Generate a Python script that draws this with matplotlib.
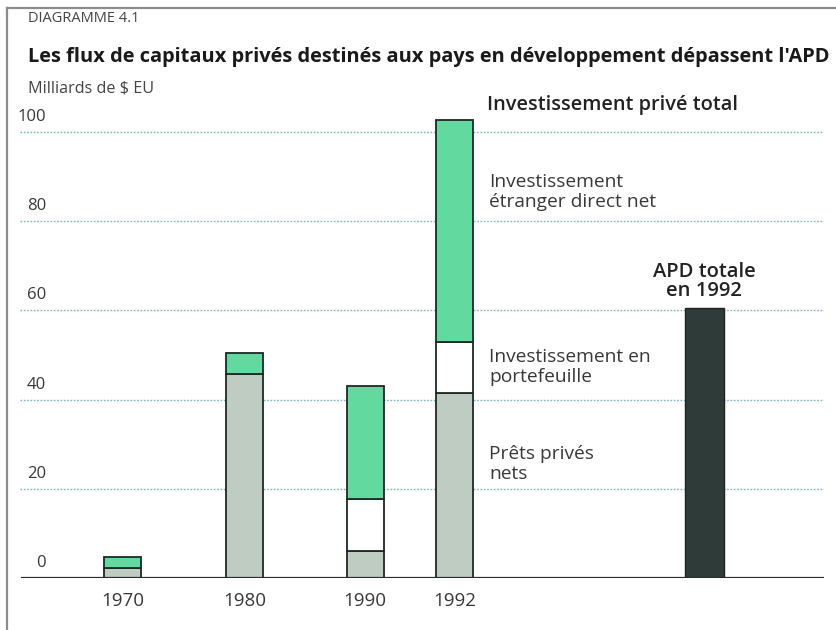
import matplotlib.pyplot as plt
from matplotlib.lines import Line2D

plt.rcParams["font.family"] = ["Open Sans", "DejaVu Sans"]

# ── Données (milliards de $ EU) ──────────────────────────────
annees = ["1970", "1980", "1990", "1992"]
prets_prives = [2.2, 45.7, 6.0, 41.5]          # Prêts privés nets
portefeuille = [0.0, 0.0, 11.7, 11.5]          # Investissement en portefeuille
ide_net = [2.5, 4.8, 25.3, 49.7]               # Investissement étranger direct net
apd_1992 = 60.5                                 # APD totale en 1992
graduations = [0, 20, 40, 60, 80, 100]

# ── Mise en page ─────────────────────────────────────────────
positions = [0, 1, 1.99, 2.72]
pos_apd = 4.77
largeur = 0.30

C_GRIS = "#bfccc2"
C_VERT = "#62d99e"
C_BLANC = "#ffffff"
C_APD = "#2f3b39"
C_BORD = "#1e2824"
C_GRILLE = "#7fb6bd"
C_TEXTE = "#383838"

fig = plt.figure(figsize=(8.37, 6.30), dpi=100, facecolor="white")
# y=0 -> 578 px, y=100 -> 132 px
ax = fig.add_axes([20 / 837, 52 / 630, 804 / 837, 490.6 / 630])
ax.set_xlim(-0.84, 5.75)
ax.set_ylim(0, 110)
ax.axis("off")

for g in graduations[1:]:
    ax.axhline(g, color=C_GRILLE, lw=1.0, ls=(0, (1.2, 1.2)), zorder=1)
ax.axhline(0, color="#2a2a2a", lw=1.6, xmin=0.003, zorder=4)

bas2 = prets_prives
bas3 = [a + b for a, b in zip(prets_prives, portefeuille)]
ax.bar(positions, prets_prives, largeur, color=C_GRIS, edgecolor=C_BORD, lw=1.3, zorder=3)
ax.bar(positions, portefeuille, largeur, bottom=bas2, color=C_BLANC, edgecolor=C_BORD, lw=1.3, zorder=3)
ax.bar(positions, ide_net, largeur, bottom=bas3, color=C_VERT, edgecolor=C_BORD, lw=1.3, zorder=3)
ax.bar([pos_apd], [apd_1992], largeur * 1.05, color=C_APD, edgecolor="#222", lw=1.0, zorder=3)

# Graduations de l'axe y
for g in graduations:
    ax.annotate(str(g), xy=(0, g), xycoords=("axes fraction", "data"),
                xytext=(26, 15), textcoords="offset pixels",
                ha="right", va="center", fontsize=12, color=C_TEXTE)

for p, a in zip(positions, annees):
    ax.annotate(a, xy=(p, 0), xycoords="data", xytext=(0, -23),
                textcoords="offset pixels", ha="center", va="center",
                fontsize=13.5, color=C_TEXTE)

# Étiquettes des séries
ax.annotate("Investissement privé total", xy=(487, 630 - 105), xycoords="figure pixels",
            ha="left", va="center", fontsize=14.4, fontweight="semibold", color="#222")
kw = dict(xycoords="figure pixels", ha="left", va="center", fontsize=13.8,
          color=C_TEXTE, linespacing=1.15)
ax.annotate("Investissement\nétranger direct net", xy=(489, 630 - 192), **kw)
ax.annotate("Investissement en\nportefeuille", xy=(489, 630 - 367), **kw)
ax.annotate("Prêts privés\nnets", xy=(489, 630 - 464), **kw)
ax.annotate("APD totale\nen 1992", xy=(pos_apd, apd_1992), xytext=(0, 27),
            textcoords="offset pixels", ha="center", va="center",
            fontsize=14.5, fontweight="semibold", color="#222", linespacing=0.95)

# Titres
fig.text(28 / 837, 1 - 18 / 630, "DIAGRAMME 4.1", fontsize=10.5, color="#444",
         ha="left", va="center")
fig.text(28 / 837, 1 - 57 / 630,
         "Les flux de capitaux privés destinés aux pays en développement dépassent l'APD",
         fontsize=14.4, fontweight="bold", color="#1a1a1a", ha="left", va="center")
fig.text(28 / 837, 1 - 88 / 630, "Milliards de $ EU", fontsize=11.6, color="#444",
         ha="left", va="center")

# Cadre (haut et gauche)
fig.add_artist(Line2D([7 / 837, 1], [1 - 8 / 630] * 2, color="#8a8f8d", lw=1.6))
fig.add_artist(Line2D([7 / 837] * 2, [0, 1 - 8 / 630], color="#8a8f8d", lw=1.6))

fig.savefig("out.png", dpi=100, facecolor="white")
